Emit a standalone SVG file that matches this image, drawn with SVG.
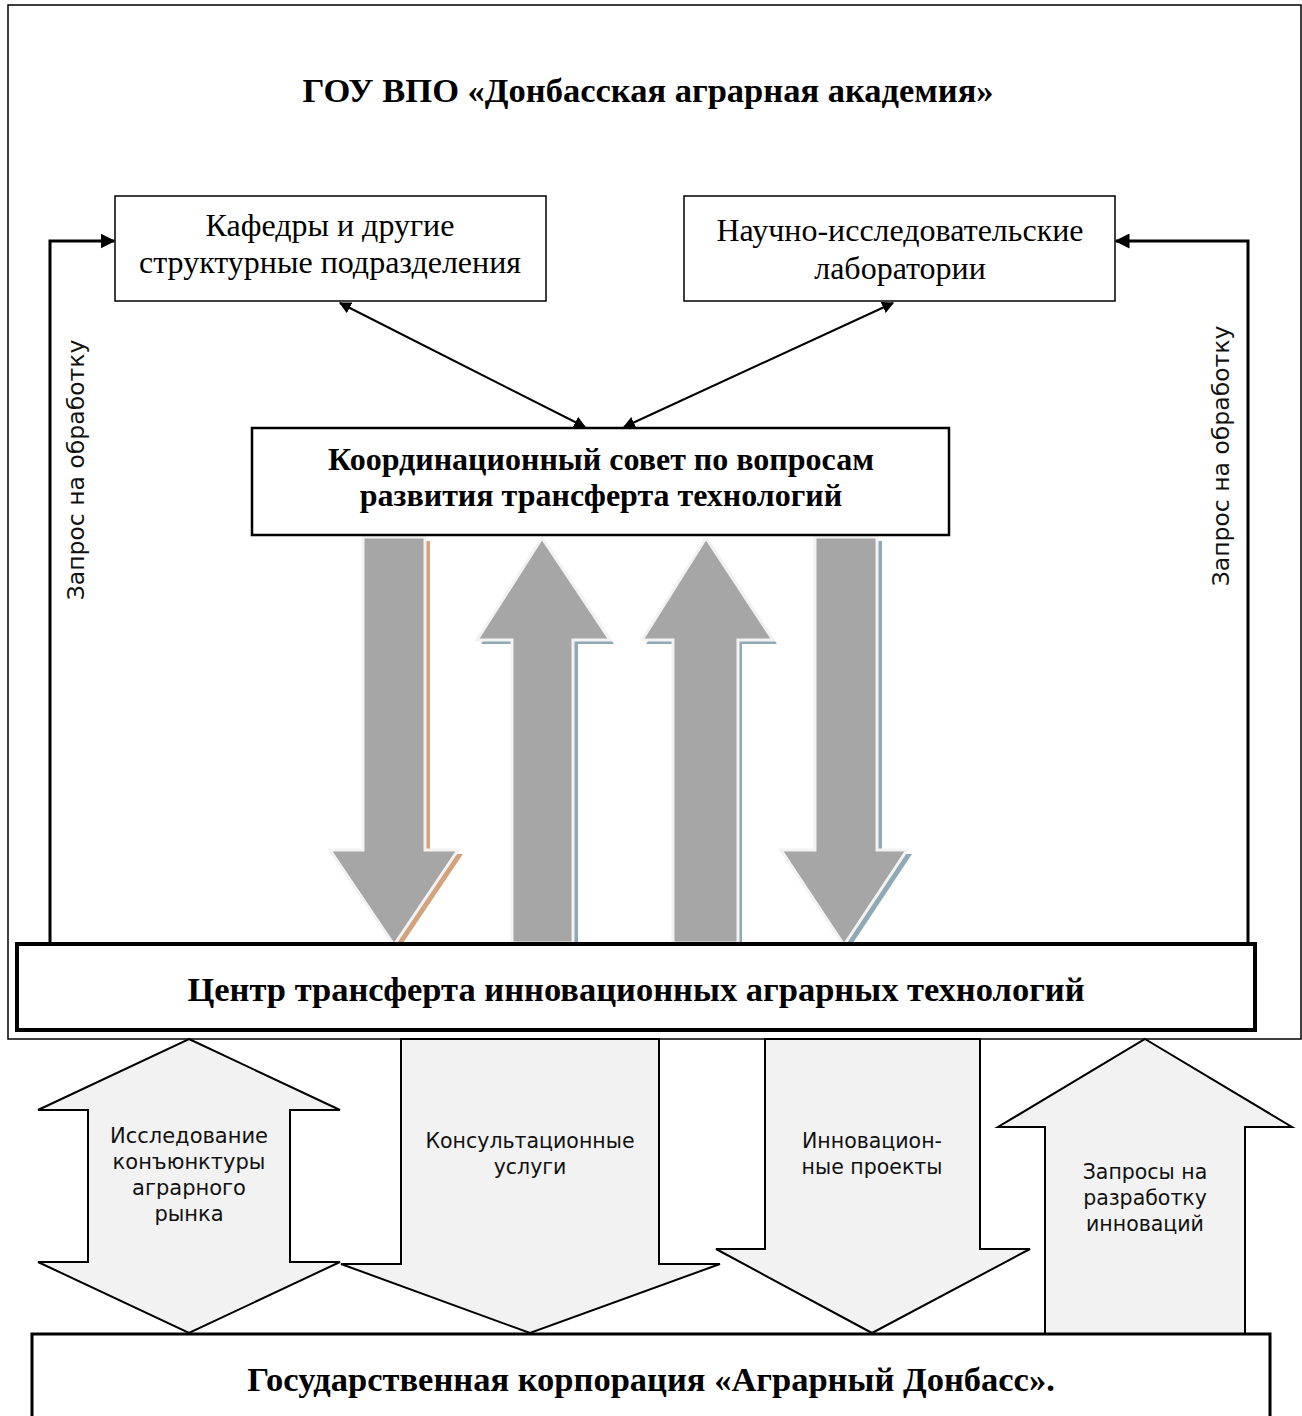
<svg xmlns="http://www.w3.org/2000/svg" width="1302" height="1416" viewBox="0 0 1302 1416">
<style>
.serif{font-family:"Liberation Serif","Times New Roman",serif;fill:#000}
.sans{font-family:"DejaVu Sans",Verdana,sans-serif;fill:#111}
.box{fill:#fff;stroke:#000}
.gray{fill:#a6a6a6;stroke:#f2f2f2;stroke-width:3}
.light{fill:#f2f2f2;stroke:#000;stroke-width:2;stroke-linejoin:miter}
.conn{fill:none;stroke:#000}
</style>
<defs>
<marker id="ah" viewBox="0 0 10 10" refX="9" refY="5" markerWidth="6" markerHeight="6" orient="auto-start-reverse" markerUnits="strokeWidth">
<path d="M0,0 L10,5 L0,10 z" fill="#000"/>
</marker>
<marker id="ah2" viewBox="0 0 10 10" refX="9" refY="5" markerWidth="5" markerHeight="5" orient="auto-start-reverse" markerUnits="strokeWidth">
<path d="M0,0 L10,5 L0,10 z" fill="#000"/>
</marker>
</defs>

<rect x="8" y="5" width="1293" height="1034" fill="#fff" stroke="#000" stroke-width="1.5"/>

<g id="title">
<text class="serif" x="648" y="102" font-size="34.5" font-weight="bold" text-anchor="middle">ГОУ ВПО «Донбасская аграрная академия»</text>
</g>

<g id="gray-arrows">
<polygon points="368,541 430,541 430,854 463,854 399,949 335,854 368,854" fill="#d4a37c"/>
<polygon class="gray" points="363,537 425,537 425,850 458,850 394,945 330,850 363,850"/>
<polygon points="546,542 614,644 578,644 578,947 517,947 517,644 481,644" fill="#8eabb5"/>
<polygon class="gray" points="542,538 610,640 573,640 573,943 512,943 512,640 477,640"/>
<polygon points="710,542 777,644 742,644 742,947 678,947 678,644 646,644" fill="#8eabb5"/>
<polygon class="gray" points="706,538 773,640 738,640 738,943 673,943 673,640 642,640"/>
<polygon points="820,541 882,541 882,854 912,854 849,949 786,854 820,854" fill="#8eabb5"/>
<polygon class="gray" points="815,537 877,537 877,850 907,850 844,945 781,850 815,850"/>
</g>

<g id="connectors">
<line class="conn" x1="340" y1="303" x2="585" y2="427" stroke-width="2" marker-start="url(#ah)" marker-end="url(#ah)"/>
<line class="conn" x1="893" y1="303" x2="624" y2="427" stroke-width="2" marker-start="url(#ah)" marker-end="url(#ah)"/>
<polyline class="conn" points="50,944 50,241 114,241" stroke-width="3" marker-end="url(#ah2)"/>
<polyline class="conn" points="1248,944 1248,241 1116,241" stroke-width="3" marker-end="url(#ah2)"/>
</g>

<g id="label-left">
<text class="sans" font-size="23.5" text-anchor="middle" transform="translate(84,470) rotate(-90)">Запрос на обработку</text>
</g>
<g id="label-right">
<text class="sans" font-size="23.5" text-anchor="middle" transform="translate(1229,456) rotate(-90)">Запрос на обработку</text>
</g>

<g id="kafedry">
<rect class="box" x="115" y="196" width="431" height="105" stroke-width="1.5"/>
<text class="serif" font-size="32" text-anchor="middle"><tspan x="330" y="236">Кафедры и другие</tspan><tspan x="330" y="273">структурные подразделения</tspan></text>
</g>

<g id="labs">
<rect class="box" x="684" y="196" width="431" height="105" stroke-width="1.5"/>
<text class="serif" font-size="32" text-anchor="middle"><tspan x="900" y="241">Научно-исследовательские</tspan><tspan x="900" y="279">лаборатории</tspan></text>
</g>

<g id="coord">
<rect class="box" x="252" y="428" width="697" height="107" stroke-width="2.5"/>
<text class="serif" font-size="32" font-weight="bold" text-anchor="middle"><tspan x="601" y="470">Координационный совет по вопросам</tspan><tspan x="601" y="506">развития трансферта технологий</tspan></text>
</g>

<g id="center">
<rect class="box" x="17" y="944" width="1238" height="86" stroke-width="4"/>
<text class="serif" x="636" y="1001" font-size="34.5" font-weight="bold" text-anchor="middle">Центр трансферта инновационных аграрных технологий</text>
</g>

<g id="arrow-research">
<polygon class="light" points="189,1039 340,1110 290,1110 290,1262 340,1262 189,1333 38,1262 88,1262 88,1110 38,1110"/>
<text class="sans" font-size="21" text-anchor="middle"><tspan x="189" y="1143">Исследование</tspan><tspan x="189" y="1169">конъюнктуры</tspan><tspan x="189" y="1195">аграрного</tspan><tspan x="189" y="1221">рынка</tspan></text>
</g>

<g id="arrow-consult">
<polygon class="light" points="401,1039 659,1039 659,1264 720,1264 530,1333 341,1264 401,1264"/>
<text class="sans" font-size="20.5" text-anchor="middle"><tspan x="530" y="1148">Консультационные</tspan><tspan x="530" y="1174">услуги</tspan></text>
</g>

<g id="arrow-projects">
<polygon class="light" points="765,1039 980,1039 980,1249 1030,1249 872,1333 716,1249 765,1249"/>
<text class="sans" font-size="20.5" text-anchor="middle"><tspan x="872" y="1148">Инновацион-</tspan><tspan x="872" y="1174">ные проекты</tspan></text>
</g>

<g id="arrow-requests">
<polygon class="light" points="1145,1039 1292,1127 1245,1127 1245,1334 1045,1334 1045,1127 998,1127"/>
<text class="sans" font-size="20.5" text-anchor="middle"><tspan x="1145" y="1179">Запросы на</tspan><tspan x="1145" y="1205">разработку</tspan><tspan x="1145" y="1231">инноваций</tspan></text>
</g>

<g id="corporation">
<rect class="box" x="32" y="1334" width="1238" height="90" stroke-width="3"/>
<text class="serif" x="651" y="1391" font-size="34.5" font-weight="bold" text-anchor="middle">Государственная корпорация «Аграрный Донбасс».</text>
</g>
</svg>
